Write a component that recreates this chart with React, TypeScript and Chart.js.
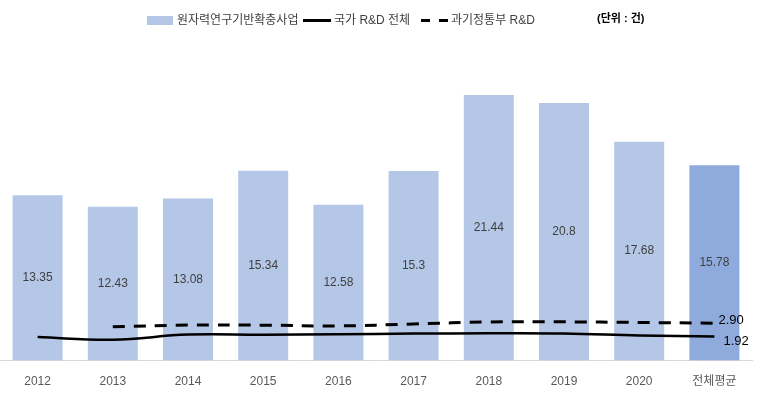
import React, { useEffect, useRef } from "react";
import { Chart, registerables } from "chart.js";

Chart.register(...registerables);

const categories = ["2012", "2013", "2014", "2015", "2016", "2017", "2018", "2019", "2020", "전체평균"];
const barValues = [13.35, 12.43, 13.08, 15.34, 12.58, 15.3, 21.44, 20.8, 17.68, 15.78];
const barLabels = ["13.35", "12.43", "13.08", "15.34", "12.58", "15.3", "21.44", "20.8", "17.68", "15.78"];
const nationalValues = [1.9, 1.69, 2.1, 2.09, 2.12, 2.18, 2.2, 2.18, 2.03, 1.95];
const msitValues = [null, 2.73, 2.87, 2.86, 2.8, 2.96, 3.12, 3.13, 3.08, 3.02];
const endLabels = ["1.92", "2.90"];

const FONT = '"Liberation Sans", Arial, "Noto Sans CJK KR", sans-serif';

const labelPlugin = {
  id: "labels",
  afterDatasetsDraw(chart: any) {
    const ctx = chart.ctx;
    ctx.save();
    ctx.font = `12px ${FONT}`;
    ctx.fillStyle = "#404040";
    ctx.textAlign = "center";
    ctx.textBaseline = "middle";
    const meta = chart.getDatasetMeta(0);
    meta.data.forEach((bar: any, i: number) => {
      const cy = (bar.y + bar.base) / 2;
      ctx.fillText(barLabels[i], bar.x, cy);
    });
    const m1 = chart.getDatasetMeta(1);
    const m2 = chart.getDatasetMeta(2);
    const p1 = m1.data[m1.data.length - 1];
    const p2 = m2.data[m2.data.length - 1];
    ctx.textAlign = "left";
    ctx.fillStyle = "#000000";
    ctx.font = `13px ${FONT}`;
    ctx.fillText(endLabels[0], p1.x + 9, p1.y + 5);
    ctx.fillText(endLabels[1], p2.x + 4, p2.y - 3);
    ctx.restore();
  },
};

export default function App() {
  const ref = useRef<HTMLCanvasElement>(null);
  useEffect(() => {
    document.body.style.margin = "0";
    const chart = new Chart(ref.current!, {
      type: "bar",
      data: {
        labels: categories,
        datasets: [
          {
            type: "bar",
            label: "원자력연구기반확충사업",
            data: barValues,
            backgroundColor: barValues.map((_, i) => (i === barValues.length - 1 ? "#8FAADC" : "#B4C7E7")),
            barPercentage: 0.665,
            categoryPercentage: 1,
            order: 2,
          },
          {
            type: "line",
            label: "국가 R&D 전체",
            data: nationalValues,
            borderColor: "#000000",
            borderWidth: 2.5,
            pointRadius: 0,
            tension: 0.4,
            order: 1,
          },
          {
            type: "line",
            label: "과기정통부 R&D",
            data: msitValues as any,
            borderColor: "#000000",
            borderWidth: 3,
            borderDash: [12, 9],
            pointRadius: 0,
            tension: 0.4,
            order: 0,
          },
        ],
      },
      options: {
        animation: false,
        responsive: false,
        layout: { padding: { top: 51, right: 22, left: 0, bottom: 9 } },
        plugins: { legend: { display: false }, tooltip: { enabled: false } },
        scales: {
          x: {
            grid: { display: false },
            border: { display: true, color: "#d9d9d9", width: 1 },
            ticks: { color: "#595959", font: { size: 12, family: FONT }, padding: 6 },
          },
          y: { display: false, min: 0, max: 25 },
        },
      },
      plugins: [labelPlugin],
    });
    return () => chart.destroy();
  }, []);

  const legendText: React.CSSProperties = {
    position: "absolute",
    top: 12,
    fontFamily: FONT,
    fontSize: 12,
    color: "#404040",
    lineHeight: "16px",
    whiteSpace: "nowrap",
  };

  return (
    <div style={{ position: "relative", width: 774, height: 404 }}>
      <canvas ref={ref} width={774} height={404} style={{ display: "block" }} />
      <div style={{ position: "absolute", left: 147, top: 16, width: 26, height: 9, background: "#B4C7E7" }} />
      <div style={{ ...legendText, left: 177 }}>원자력연구기반확충사업</div>
      <div style={{ position: "absolute", left: 303, top: 19, width: 28, height: 3, background: "#000" }} />
      <div style={{ ...legendText, left: 334 }}>국가 R&amp;D 전체</div>
      <div style={{ position: "absolute", left: 421, top: 19, width: 9, height: 3, background: "#000" }} />
      <div style={{ position: "absolute", left: 439, top: 19, width: 9, height: 3, background: "#000" }} />
      <div style={{ ...legendText, left: 451 }}>과기정통부 R&amp;D</div>
      <div style={{ ...legendText, left: 597, top: 10, fontSize: 11, fontWeight: "bold", color: "#000" }}>(단위 : 건)</div>
    </div>
  );
}
